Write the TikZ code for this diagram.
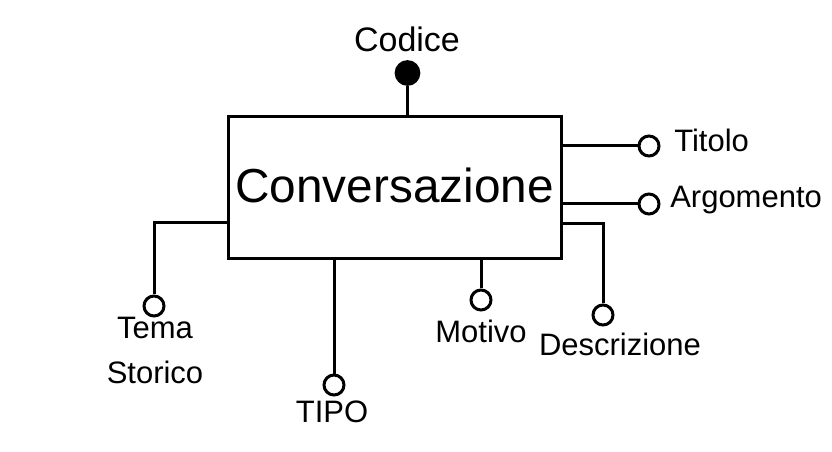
\documentclass[tikz,border=0pt]{standalone}
\usepackage{fontspec}
\setmainfont{Liberation Sans}
\usepackage{tikz}
\tikzstyle{entity} = [rectangle, draw, line width=2.25pt, minimum width=249.75pt, minimum height=106.5pt, inner sep=0pt, font=\fontsize{35.8}{40}\selectfont]
\tikzstyle{attr} = [circle, draw, line width=2.25pt, fill=white, minimum size=15pt, inner sep=0pt]
\tikzstyle{keyattr} = [circle, draw, line width=2.25pt, fill=black, minimum size=17pt, inner sep=0pt]
\tikzstyle{label} = [inner sep=0pt, font=\fontsize{23.25}{33}\selectfont]
\tikzstyle{line} = [draw, line width=2.25pt]

\begin{document}
\begin{tikzpicture} [x=0.75pt, y=-0.75pt]
\useasboundingbox (0,0) rectangle (832,452);
% Place nodes
\node [entity] (conv) at (394.5,188) {};
\node [inner sep=0pt, font=\fontsize{35.8}{40}\selectfont, anchor=base] (convtxt) at (394.5,203) {Conversazione};
\node [keyattr] (cod) at (407.5,73) {};
\node [attr] (tit) at (649,146) {};
\node [attr] (arg) at (649,204) {};
\node [attr] (desc) at (603,315) {};
\node [attr] (mot) at (481,300) {};
\node [attr] (tipo) at (334,385) {};
\node [attr] (tema) at (154,306) {};
% Labels
\node [label, anchor=base, font=\fontsize{25.5}{30}\selectfont] (codlab) at (407,52) {Codice};
\node [label, anchor=base west] (titlab) at (674,152) {Titolo};
\node [label, anchor=base west] (arglab) at (670,208) {Argomento};
\node [label, anchor=base] (desclab) at (620,355) {Descrizione};
\node [label, anchor=base] (motlab) at (481,343) {Motivo};
\node [label, anchor=base] (tipolab) at (332,422) {TIPO};
\node [label, anchor=base] (temalab) at (155,339) {Tema};
\node [label, anchor=base] (storlab) at (155,383) {Storico};
% Draw edges
\path [line] (cod.south) -- (cod.south |- conv.north);
\path [line] (tit.west) -- (tit.west -| conv.east);
\path [line] (arg.west) -- (arg.west -| conv.east);
\path [line] (desc.north) |- (conv.east |- 0,224);
\path [line] (mot.north) -- (mot.north |- conv.south);
\path [line] (tipo.north) -- (tipo.north |- conv.south);
\path [line] (tema.north) |- (conv.west |- 0,223);

\end{tikzpicture}
\end{document}
